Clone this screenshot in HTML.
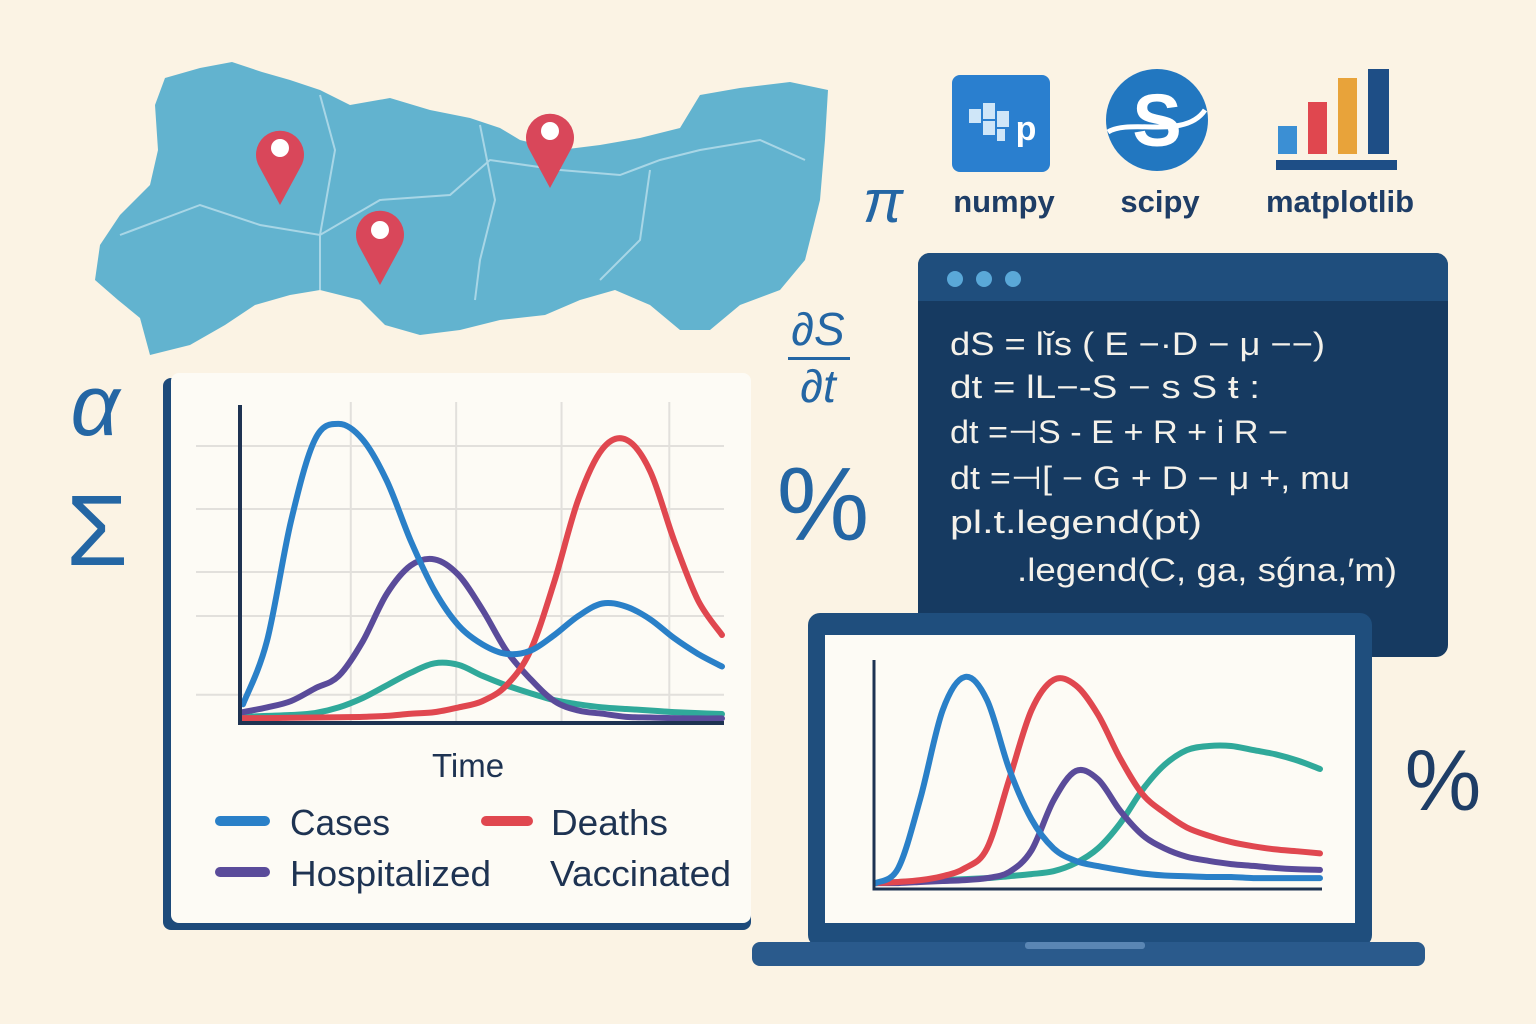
<!DOCTYPE html>
<html><head><meta charset="utf-8"><style>
html,body{margin:0;padding:0;background:#fbf3e4;}
svg{display:block;}
text{font-family:"Liberation Sans","DejaVu Sans",sans-serif;}
</style></head><body>
<svg id="root" width="1536" height="1024" viewBox="0 0 1536 1024" xmlns="http://www.w3.org/2000/svg">
<rect width="1536" height="1024" fill="#fbf3e4"/>

<g>
<path d="M150,355 L140,318 L118,300 L95,280 L100,245 L120,215 L150,185 L158,150 L155,105 L165,78 L200,68 L232,62 L262,72 L290,80 L320,90 L350,105 L390,98 L430,110 L470,118 L500,128 L520,140 L560,150 L600,145 L640,138 L680,128 L700,95 L740,88 L790,82 L828,90 L825,140 L820,200 L805,260 L780,290 L740,305 L710,330 L680,330 L650,305 L615,290 L580,300 L545,315 L500,320 L460,330 L420,335 L385,325 L360,300 L320,290 L290,295 L255,305 L225,325 L190,345 Z" fill="#62b3cf"/>
<path d="M120,235 L200,205 L260,225 L320,235 L380,200 L450,195 L490,160 L560,170 L620,175 L660,160 L700,150 L760,140 L805,160 M320,95 L335,150 L320,235 L320,290 M480,125 L495,200 L480,260 L475,300 M650,170 L640,240 L600,280" fill="none" stroke="#a8d6e6" stroke-width="2"/>
<g><path d="M280,205 L260,168 A24,24 0 1,1 300,168 Z" fill="#d9475a"/><circle cx="280" cy="148" r="9" fill="#fff"/></g>
<g><path d="M550,188 L530,151 A24,24 0 1,1 570,151 Z" fill="#d9475a"/><circle cx="550" cy="131" r="9" fill="#fff"/></g>
<g><path d="M380,285 L360,248 A24,24 0 1,1 400,248 Z" fill="#d9475a"/><circle cx="380" cy="230" r="9" fill="#fff"/></g>
</g>

<g fill="#2466a4">
<text x="95" y="435" font-size="86" font-style="italic" font-family="Liberation Serif,serif" text-anchor="middle">α</text>
<text x="97" y="565" font-size="100" font-family="Liberation Serif,serif" text-anchor="middle">Σ</text>
<text x="883" y="222" font-size="60" font-style="italic" font-family="Liberation Serif,serif" text-anchor="middle">π</text>
<text x="818" y="345" font-size="46" font-style="italic" font-family="Liberation Serif,serif" text-anchor="middle">∂S</text>
<rect x="788" y="357" width="62" height="3"/>
<text x="818" y="402" font-size="46" font-style="italic" font-family="Liberation Serif,serif" text-anchor="middle">∂t</text>
<text x="823" y="540" font-size="104" text-anchor="middle">%</text>
<text x="1443" y="810" font-size="86" fill="#1e3d66" text-anchor="middle">%</text>
</g>

<g>
<rect x="952" y="75" width="98" height="97" rx="8" fill="#2a7fcf"/>
<g fill="#cfe6f8" stroke="#2a7fcf" stroke-width="2"><rect x="968" y="108" width="14" height="16"/><rect x="982" y="102" width="14" height="18"/><rect x="996" y="110" width="14" height="18"/><rect x="982" y="120" width="14" height="16"/><rect x="996" y="128" width="10" height="14"/></g>
<text x="1026" y="140" font-size="34" font-weight="bold" fill="#fff" text-anchor="middle">p</text>
<circle cx="1157" cy="120" r="51" fill="#2277c0"/>
<text x="1157" y="146" font-size="74" font-weight="bold" fill="#fff" text-anchor="middle">S</text>
<path d="M1108,132 C1130,118 1185,140 1205,110" stroke="#fff" stroke-width="5" fill="none"/>
<g>
<rect x="1278" y="126" width="19" height="28" fill="#3b8fd4"/>
<rect x="1308" y="102" width="19" height="52" fill="#e0474f"/>
<rect x="1338" y="78" width="19" height="76" fill="#e8a33a"/>
<rect x="1368" y="69" width="21" height="85" fill="#1e4e86"/>
<rect x="1276" y="160" width="121" height="10" fill="#1e4e86"/>
</g>
<g font-size="31" font-weight="bold" fill="#1e3d66" text-anchor="middle">
<text x="1004" y="212">numpy</text>
<text x="1160" y="212">scipy</text>
<text x="1340" y="212">matplotlib</text>
</g>
</g>

<g>
<rect x="918" y="253" width="530" height="404" rx="12" fill="#163a61"/>
<path d="M930,253 H1436 A12,12 0 0 1 1448,265 V301 H918 V265 A12,12 0 0 1 930,253 Z" fill="#1f4e7d"/>
<circle cx="955" cy="279" r="8" fill="#5aa8d8"/>
<circle cx="984" cy="279" r="8" fill="#5aa8d8"/>
<circle cx="1013" cy="279" r="8" fill="#5aa8d8"/>
<g fill="#f4f1ea" font-size="32" lengthAdjust="spacingAndGlyphs">
<text x="950" y="355" textLength="375" lengthAdjust="spacingAndGlyphs">dS = lĭs ( E −·D − μ −−)</text>
<text x="950" y="398" textLength="310" lengthAdjust="spacingAndGlyphs">dt = lL−-S − s S ŧ :</text>
<text x="950" y="443" textLength="338" lengthAdjust="spacingAndGlyphs">dt =⊣S - E + R + i R −</text>
<text x="950" y="489" textLength="400" lengthAdjust="spacingAndGlyphs">dt =⊣[ − G + D − μ +, mu</text>
<text x="950" y="533" textLength="252" lengthAdjust="spacingAndGlyphs">pl.t.legend(pt)</text>
<text x="1017" y="581" textLength="380" lengthAdjust="spacingAndGlyphs">.legend(C, ga, sǵna,′m)</text>
</g>
</g>

<g>
<rect x="163" y="378" width="588" height="552" rx="8" fill="#1d4a7a"/>
<rect x="171" y="373" width="580" height="550" rx="8" fill="#fdfbf5"/>
<g id="leftGrid" stroke="#e2e0dc" stroke-width="2"></g>
<g id="leftSeries" fill="none" stroke-width="6" stroke-linecap="round"></g>
<path d="M240,405 V723 H724" stroke="#1e3352" stroke-width="4" fill="none"/>
<text x="468" y="777" font-size="33" fill="#1e3352" text-anchor="middle">Time</text>
<g font-size="36" fill="#1e3352">
<g><rect x="215" y="816" width="55" height="10" rx="5" fill="#2a80c8"/><text x="290" y="835" textLength="100" lengthAdjust="spacingAndGlyphs">Cases</text></g>
<g><rect x="481" y="816" width="52" height="10" rx="5" fill="#e0474f"/><text x="551" y="835" textLength="117" lengthAdjust="spacingAndGlyphs">Deaths</text></g>
<g><rect x="215" y="867" width="55" height="10" rx="5" fill="#5a4b9a"/><text x="290" y="886" textLength="201" lengthAdjust="spacingAndGlyphs">Hospitalized</text></g>
<g><text x="550" y="886" textLength="181" lengthAdjust="spacingAndGlyphs">Vaccinated</text></g>
</g>
</g>

<g>
<rect x="808" y="613" width="564" height="334" rx="12" fill="#1f4e7d"/>
<rect x="825" y="635" width="530" height="288" fill="#fdfbf5"/>
<rect x="752" y="942" width="673" height="24" rx="8" fill="#2a5a8c"/>
<rect x="1025" y="942" width="120" height="7" rx="3" fill="#5a86b4"/>
<g id="rightSeries" fill="none" stroke-width="6" stroke-linecap="round"></g>
<path d="M874,660 V889 H1322" stroke="#1e3352" stroke-width="3" fill="none"/>
</g>
</svg>
<script>
// left chart data (x index 0..20, value 0..100)
const leftCases = [5,25,63,89,94,89,76,57,41,30,24,21,22,27,33,37,36,32,26,21,17];
const leftHospitalized = [2.5,4,6,10,14,25,40,49,51,46,35,22,13,6,3,2,1,0.8,0.6,0.5,0.5];
const leftVaccinated = [1,1.3,1.6,2.2,4,7,11,15,18,17.5,14,11,8.5,6.3,5,4,3.5,3,2.5,2.2,1.9];
const leftDeaths = [0.6,0.6,0.7,0.8,0.9,1,1.3,2,2.5,4,6,11,22,44,70,86,89,79,57,38,27];
// laptop chart data
const lapCases = [1.4,8.5,42,84,100,89,56,32,18,12,9.5,7.6,6,5,4.7,4.3,4.3,3.8,3.8,3.8,3.8];
const lapDeaths = [1.4,1.9,2.8,4.7,8.5,18,51,84,98.6,96,82,61,44,35,28,24,21,19,17.5,16.6,15.6];
const lapHospitalized = [1.4,1.4,1.9,2.4,2.8,3.8,6.7,17,41,55,51,36,24.4,18,14,12,10.5,9.6,8.6,8,7.7];
const lapVaccinated = [1.4,1.9,2.4,2.8,3.3,3.8,4.7,5.7,7.1,11,18,30,46,58,65,67,67,65,63,60,56];
const gridValues = [8,33,47,67,87];
const gridXValues = [4.5,8.9,13.3,17.8];

const NS='http://www.w3.org/2000/svg';
function lx(i){return 243+i*(722-243)/20;}
function ly(v){return 720-v*3.15;}
function rx(i){return 876+i*(1320-876)/20;}
function ry(v){return 886-v*2.09;}
function smooth(pts){
  let d='M'+pts[0][0]+','+pts[0][1];
  for(let i=0;i<pts.length-1;i++){
    const p0=pts[Math.max(0,i-1)],p1=pts[i],p2=pts[i+1],p3=pts[Math.min(pts.length-1,i+2)];
    const c1=[p1[0]+(p2[0]-p0[0])/6,p1[1]+(p2[1]-p0[1])/6];
    const c2=[p2[0]-(p3[0]-p1[0])/6,p2[1]-(p3[1]-p1[1])/6];
    d+=' C'+c1[0].toFixed(1)+','+c1[1].toFixed(1)+' '+c2[0].toFixed(1)+','+c2[1].toFixed(1)+' '+p2[0].toFixed(1)+','+p2[1].toFixed(1);
  }
  return d;
}
function draw(gid,arr,fx,fy,color,name){
  const p=document.createElementNS(NS,'path');
  p.setAttribute('d',smooth(arr.map((v,i)=>[fx(i),fy(v)])));
  p.setAttribute('stroke',color);
  
  
  document.getElementById(gid).appendChild(p);
}
const grid=document.getElementById('leftGrid');
gridValues.forEach(v=>{
  const l=document.createElementNS(NS,'line');
  l.setAttribute('x1',196);l.setAttribute('x2',724);l.setAttribute('y1',ly(v));l.setAttribute('y2',ly(v));
  
  
  grid.appendChild(l);
});
gridXValues.forEach(v=>{
  const l=document.createElementNS(NS,'line');
  l.setAttribute('x1',lx(v));l.setAttribute('x2',lx(v));l.setAttribute('y1',402);l.setAttribute('y2',722);
  
  
  grid.appendChild(l);
});
draw('leftSeries',leftVaccinated,lx,ly,'#30a99a','line-vaccinated');
draw('leftSeries',leftHospitalized,lx,ly,'#5a4b9a','line-hospitalized');
draw('leftSeries',leftDeaths,lx,ly,'#e0474f','line-deaths');
draw('leftSeries',leftCases,lx,ly,'#2a80c8','line-cases');
draw('rightSeries',lapVaccinated,rx,ry,'#30a99a','laptop-line-vaccinated');
draw('rightSeries',lapHospitalized,rx,ry,'#5a4b9a','laptop-line-hospitalized');
draw('rightSeries',lapDeaths,rx,ry,'#e0474f','laptop-line-deaths');
draw('rightSeries',lapCases,rx,ry,'#2a80c8','laptop-line-cases');
</script>
</body></html>
